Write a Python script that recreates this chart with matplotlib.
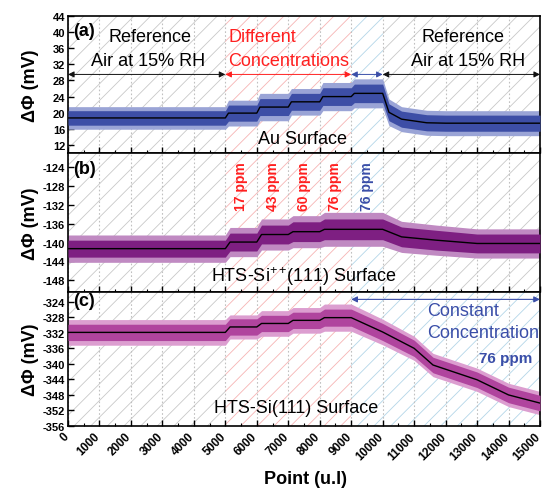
import numpy as np
import matplotlib.pyplot as plt
from matplotlib.ticker import MultipleLocator
from matplotlib.transforms import ScaledTranslation

plt.rcParams['font.family'] = ['Liberation Sans', 'DejaVu Sans']
plt.rcParams['mathtext.fontset'] = 'custom'
plt.rcParams['mathtext.rm'] = 'Liberation Sans'
plt.rcParams['hatch.linewidth'] = 0.6
plt.rcParams['axes.unicode_minus'] = False

# ---- panel (a): Au surface ----
a_pts = [0, 5000, 5100, 6000, 6100, 7000, 7100, 8000, 8100, 9000, 9100, 10000, 10200, 10600, 11400, 12000, 15000]
a_fit = [18.7, 18.7, 19.9, 19.9, 21.4, 21.4, 22.7, 22.7, 24.0, 24.0, 24.8, 24.8, 20.1, 18.4, 17.5, 17.4, 17.4]
a_core = [1.8, 1.8, 2.0, 2.0, 2.1, 2.1, 2.1, 2.1, 2.2, 2.2, 2.3, 2.3, 2.1, 2.0, 2.0, 2.0, 2.0]
a_spike = [2.8, 2.8, 3.2, 3.2, 3.4, 3.4, 3.3, 3.3, 3.5, 3.5, 3.6, 3.6, 3.3, 3.1, 3.1, 3.1, 3.1]

# ---- panel (b): HTS-Si++(111) surface ----
b_pts = [0, 5000, 5150, 6000, 6150, 7000, 7150, 8000, 8150, 10000, 10600, 11700, 13000, 15000]
b_fit = [-141.3, -141.3, -139.9, -139.9, -138.3, -138.3, -137.7, -137.7, -137.2, -137.2, -138.8, -139.5, -140.2, -140.2]
b_core = [1.8, 1.8, 1.9, 1.9, 2.0, 2.0, 2.1, 2.1, 2.2, 2.2, 2.1, 2.1, 2.0, 2.0]
b_spike = [2.9, 2.9, 3.1, 3.1, 3.3, 3.3, 3.4, 3.4, 3.6, 3.6, 3.3, 3.2, 3.1, 3.1]

# ---- panel (c): HTS-Si(111) surface ----
c_pts = [0, 5000, 5150, 6000, 6150, 7000, 7150, 8000, 8150, 9000, 10000, 11000, 11600, 13000, 14000, 15000]
c_fit = [-331.9, -331.9, -330.5, -330.5, -329.6, -329.6, -328.8, -328.8, -328.1, -328.1, -331.8, -336.0, -340.3, -344.1, -348.0, -350.1]
c_core = [2.1, 2.1, 2.1, 2.1, 2.1, 2.1, 2.1, 2.1, 2.2, 2.2, 2.2, 2.1, 2.0, 2.0, 2.0, 2.0]
c_spike = [3.3, 3.3, 3.1, 3.1, 3.3, 3.3, 3.3, 3.3, 3.5, 3.5, 3.3, 3.1, 3.0, 3.0, 3.0, 3.0]

x_ticks = list(range(0, 15001, 1000))
ppm_labels = ['17 ppm', '43 ppm', '60 ppm', '76 ppm', '76 ppm']
ppm_pos = [5500, 6500, 7500, 8500, 9500]

RED = '#ff1f1f'
BLUE = '#3a4ea8'
HATCH_GRAY = '#c8c8c8'
HATCH_PINK = '#f6b4b4'
HATCH_BLUE = '#b4d6e8'

fig = plt.figure(figsize=(5.43, 4.89), dpi=100)
L, W = 68 / 543, 472 / 543
edges = [(17, 154), (154, 293), (293, 427)]
axes = [fig.add_axes([L, 1 - b / 489, W, (b - t) / 489]) for t, b in edges]

panels = [
    (a_pts, a_fit, a_core, a_spike, '#3d4ea6', '#9aa4d6', (10, 44), np.arange(12, 45, 4)),
    (b_pts, b_fit, b_core, b_spike, '#7e1f82', '#c08ac2', (-150.5, -121), np.arange(-148, -123, 4)),
    (c_pts, c_fit, c_core, c_spike, '#b0449e', '#dc9ed0', (-356, -321.5), np.arange(-356, -323, 4)),
]

regions = [
    [(0, 5000, HATCH_GRAY), (5000, 9000, HATCH_PINK), (9000, 10000, HATCH_BLUE), (10000, 15000, HATCH_GRAY)],
    [(0, 5000, HATCH_GRAY), (5000, 9000, HATCH_PINK), (9000, 10000, HATCH_BLUE), (10000, 15000, HATCH_GRAY)],
    [(0, 5000, HATCH_GRAY), (5000, 9000, HATCH_PINK), (9000, 15000, HATCH_BLUE)],
]

for i, (ax, (x, fit, core, spike, col, light, ylim, yt)) in enumerate(zip(axes, panels)):
    x = np.array(x, float)
    fit = np.array(fit)
    core = np.array(core)
    spike = np.array(spike)
    for x0, x1, hc in regions[i]:
        ax.axvspan(x0, x1, facecolor='none', edgecolor=hc, hatch='//', linewidth=0, zorder=0)
    ax.grid(axis='x', which='major', linestyle=(0, (1.5, 2)), color='#c0c0c0', lw=0.8, zorder=0.5)
    ax.fill_between(x, fit - spike, fit + spike, color=light, lw=0, zorder=2)
    ax.fill_between(x, fit - core, fit + core, color=col, lw=0, zorder=3)
    ax.plot(x, fit, color='black', lw=1.0, zorder=4)
    ax.set_xlim(0, 15000)
    ax.set_ylim(*ylim)
    ax.set_yticks(yt)
    ax.set_xticks(x_ticks)
    ax.xaxis.set_minor_locator(MultipleLocator(500))
    ax.tick_params(which='both', direction='in', top=False, right=False)
    ax.tick_params(which='major', length=4, width=1)
    ax.tick_params(which='minor', length=2, width=0.8)
    ax.tick_params(axis='y', labelsize=8, pad=2)
    for lab in ax.get_yticklabels():
        lab.set_fontweight('bold')
    for s in ax.spines.values():
        s.set_linewidth(1.2)
    ax.set_ylabel('ΔΦ (mV)', fontsize=13, fontweight='bold')
    ax.yaxis.set_label_coords(-0.062, 0.5)
    if i < 2:
        ax.tick_params(axis='x', labelbottom=False)
    else:
        ax.set_xticklabels([str(v) for v in x_ticks], rotation=45, ha='right',
                           rotation_mode='anchor', fontsize=8.5, fontweight='bold')
        ax.tick_params(axis='x', pad=3)
        shift = ScaledTranslation(-4 / 72, 0, fig.dpi_scale_trans)
        for lab in ax.get_xticklabels():
            lab.set_transform(lab.get_transform() + shift)

fig.text(305 / 543, 1 - 480 / 489, 'Point (u.l)', fontsize=13, fontweight='bold',
         ha='center', va='center')

ax_a, ax_b, ax_c = axes

# panel (a) annotations
ax_a.text(150, 40.3, '(a)', fontsize=13, fontweight='bold', va='center')
ax_a.text(2600, 39.0, 'Reference', fontsize=13, ha='center', va='center')
ax_a.text(2560, 32.9, 'Air at 15% RH', fontsize=13, ha='center', va='center')
ax_a.text(5100, 39.0, 'Different', fontsize=13, color=RED, ha='left', va='center')
ax_a.text(5100, 32.9, 'Concentrations', fontsize=13, color=RED, ha='left', va='center')
ax_a.text(12550, 39.0, 'Reference', fontsize=13, ha='center', va='center')
ax_a.text(12700, 32.9, 'Air at 15% RH', fontsize=13, ha='center', va='center')
ax_a.text(7450, 13.6, 'Au Surface', fontsize=13, ha='center', va='center')

arrow_y = 29.5
for x0, x1, c in [(0, 5000, '#111111'), (5000, 9000, RED), (9000, 10000, BLUE), (10000, 15000, '#111111')]:
    ax_a.annotate('', xy=(x0, arrow_y), xytext=(x1, arrow_y),
                  arrowprops=dict(arrowstyle='<|-|>', color=c, lw=0.7, mutation_scale=9,
                                  shrinkA=0, shrinkB=0), zorder=5)

# panel (b) annotations
ax_b.text(150, -124.2, '(b)', fontsize=13, fontweight='bold', va='center')
for j, (xp, lab) in enumerate(zip(ppm_pos, ppm_labels)):
    ax_b.text(xp, -122.8, lab, rotation=90, fontsize=10, fontweight='bold',
              color=BLUE if j == len(ppm_labels) - 1 else RED, ha='center', va='top')
ax_b.text(7480, -147.0, 'HTS-Si$^{++}\\!$(111) Surface', fontsize=13, ha='center', va='center')

# panel (c) annotations
ax_c.text(150, -323.8, '(c)', fontsize=13, fontweight='bold', va='center')
ax_c.annotate('', xy=(9000, -323.4), xytext=(15000, -323.4),
              arrowprops=dict(arrowstyle='<|-|>', color=BLUE, lw=0.8, mutation_scale=9,
                              shrinkA=0, shrinkB=0), zorder=5)
ax_c.text(11400, -326.2, 'Constant', fontsize=13, color=BLUE, ha='left', va='center')
ax_c.text(11400, -331.8, 'Concentration', fontsize=13, color=BLUE, ha='left', va='center')
ax_c.text(13900, -338.6, '76 ppm', fontsize=11, fontweight='bold', color=BLUE,
          ha='center', va='center')
ax_c.text(7250, -351.3, 'HTS-Si(111) Surface', fontsize=13, ha='center', va='center')

fig.savefig('out.png', dpi=100)
